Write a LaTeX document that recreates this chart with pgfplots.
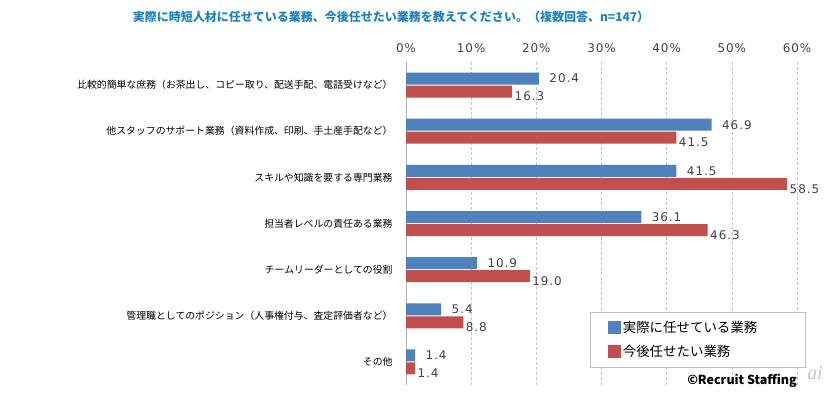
\documentclass[border=0pt]{standalone}
\usepackage{fontspec}
\setmainfont{Noto Sans CJK JP}
\newfontfamily\aifont{Liberation Serif}
\newfontfamily\numfont[LetterSpace=8]{DejaVu Sans}
\usepackage{pgfplots}
\pgfplotsset{compat=1.18}
\definecolor{sblue}{RGB}{79,129,189}
\definecolor{sred}{RGB}{192,80,77}
\definecolor{ttl}{RGB}{31,130,190}
\definecolor{lbl}{RGB}{64,64,64}
\begin{document}
\begin{tikzpicture}
\path[use as bounding box] (0,0) rectangle (832bp,395bp);
\node[font=\fontsize{12.05}{13}\selectfont\bfseries, text=ttl] at (391bp,378bp) {実際に時短人材に任せている業務、今後任せたい業務を教えてください。（複数回答、n=147）};
\begin{axis}[
  at={(406bp,10bp)}, anchor=south west,
  scale only axis, width=391bp, height=323bp,
  xmin=0, xmax=60, xtick={0,10,...,60},
  xticklabel pos=upper,
  xticklabel={\pgfmathprintnumber{\tick}\%},
  /pgf/number format/assume math mode=true,
  ymin=-0.5, ymax=6.5, y dir=reverse,
  ytick={0,...,6},
  yticklabels={比較的簡単な庶務（お茶出し、コピー取り、配送手配、電話受けなど）,
    他スタッフのサポート業務（資料作成、印刷、手土産手配など）,
    スキルや知識を要する専門業務,
    担当者レベルの責任ある業務,
    チームリーダーとしての役割,
    管理職としてのポジション（人事権付与、査定評価者など）,
    その他},
  yticklabel style={font=\fontsize{9.9}{11}\selectfont, xshift=-10bp},
  xticklabel style={font=\numfont\fontsize{12}{12}\selectfont, yshift=6bp, text=lbl},
  xmajorgrids, grid style={dash pattern=on 3bp off 2bp, gray!45},
  axis line style={draw=none},
  major tick length=0,
  extra x ticks={0}, extra x tick labels={},
  extra x tick style={grid style={solid, gray!60}},
  xbar, bar width=12bp,
  nodes near coords,
  nodes near coords style={font=\numfont\fontsize{12}{12}\selectfont, text=lbl, anchor=west,
    /pgf/number format/fixed, /pgf/number format/fixed zerofill, /pgf/number format/precision=1},
  legend cell align=left,
  legend image code/.code={\path (0bp,0bp); \fill[#1, draw=none] (10bp,-6.5bp) rectangle (23bp,6.5bp);},
  legend style={at={(1.0205,0.226)}, anchor=north east, draw=gray!50, fill=white,
    font=\fontsize{13.5}{15}\selectfont, row sep=7bp, inner xsep=8bp, inner ysep=7bp,
    /tikz/every even column/.append style={column sep=4bp}},
]
\addplot[fill=sblue, draw=none, bar shift=6.5bp,
  every node near coord/.append style={xshift=7bp, yshift=0bp}]
  coordinates {(20.4,0) (46.9,1) (41.5,2) (36.1,3) (10.9,4) (5.4,5) (1.4,6)};
\addlegendentry{\hbox to 172bp{実際に任せている業務\hfil}}
\addplot[fill=sred, draw=none, bar shift=-6.5bp,
  every node near coord/.append style={xshift=-1bp, yshift=-5bp}]
  coordinates {(16.3,0) (41.5,1) (58.5,2) (46.3,3) (19.0,4) (8.8,5) (1.4,6)};
\addlegendentry{\hbox to 172bp{今後任せたい業務\hfil}}
\end{axis}
\node[font=\fontsize{12.5}{13}\selectfont\bfseries] at (742bp,14bp) {©Recruit Staffing};
\node[font=\aifont\itshape\fontsize{20}{20}\selectfont, text=gray!45] at (815bp,22bp) {ai};
\end{tikzpicture}
\end{document}
